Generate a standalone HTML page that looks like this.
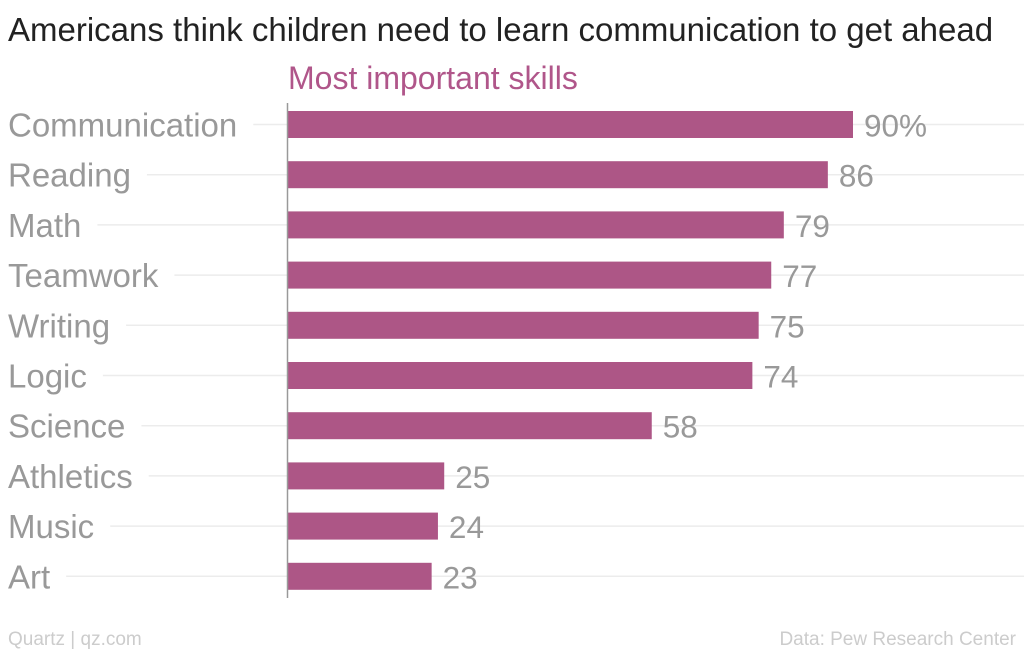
<!DOCTYPE html>
<html><head><meta charset="utf-8"><style>
body{margin:0;background:#fff;}
svg{display:block;font-family:"Liberation Sans",sans-serif;}
</style></head><body>
<svg id="chart" width="1024" height="653">
<rect width="1024" height="653" fill="#fff"/>
<text x="8" y="41" font-size="33" fill="#222">Americans think children need to learn communication to get ahead</text>
<text x="288" y="89" font-size="32" fill="#b0568a">Most important skills</text>
<g id="rows"></g>
<line x1="287.5" y1="103" x2="287.5" y2="598" stroke="#999" stroke-width="1.5"/>
<text x="8" y="645" font-size="19" fill="#ccc">Quartz | qz.com</text>
<text x="1016" y="645" font-size="19" fill="#ccc" text-anchor="end">Data: Pew Research Center</text>
</svg>
<script>
const categories=["Communication","Reading","Math","Teamwork","Writing","Logic","Science","Athletics","Music","Art"];
const values=[90,86,79,77,75,74,58,25,24,23];
const valueLabels=["90%","86","79","77","75","74","58","25","24","23"];
const NS="http://www.w3.org/2000/svg";
const x0=287, pxPer=(853-287)/90;
function xScale(v){return x0+v*pxPer;}
function yCenter(i){return 124.5+i*50.2;}
const g=document.getElementById('rows');
categories.forEach((c,i)=>{
  const yc=yCenter(i);
  const lab=document.createElementNS(NS,'text');
  
  
  lab.setAttribute('x',8);lab.setAttribute('y',yc+12);
  lab.setAttribute('font-size','33');lab.setAttribute('fill','#999');
  lab.textContent=c;g.appendChild(lab);
  const w=lab.getComputedTextLength();
  const gl=document.createElementNS(NS,'line');
  
  
  gl.setAttribute('x1',8+w+16);gl.setAttribute('x2',1024);
  gl.setAttribute('y1',yc);gl.setAttribute('y2',yc);
  gl.setAttribute('stroke','#ececec');gl.setAttribute('stroke-width','1.5');
  g.insertBefore(gl,lab);
  const b=document.createElementNS(NS,'rect');
  
  
  b.setAttribute('x',x0);b.setAttribute('y',yc-13.5);
  b.setAttribute('width',xScale(values[i])-x0);b.setAttribute('height',27);
  b.setAttribute('fill','#ad5686');g.appendChild(b);
  const vl=document.createElementNS(NS,'text');
  
  
  vl.setAttribute('x',xScale(values[i])+11);vl.setAttribute('y',yc+12);
  vl.setAttribute('font-size','31.5');vl.setAttribute('fill','#999');
  vl.textContent=valueLabels[i];g.appendChild(vl);
});
</script>
</body></html>
